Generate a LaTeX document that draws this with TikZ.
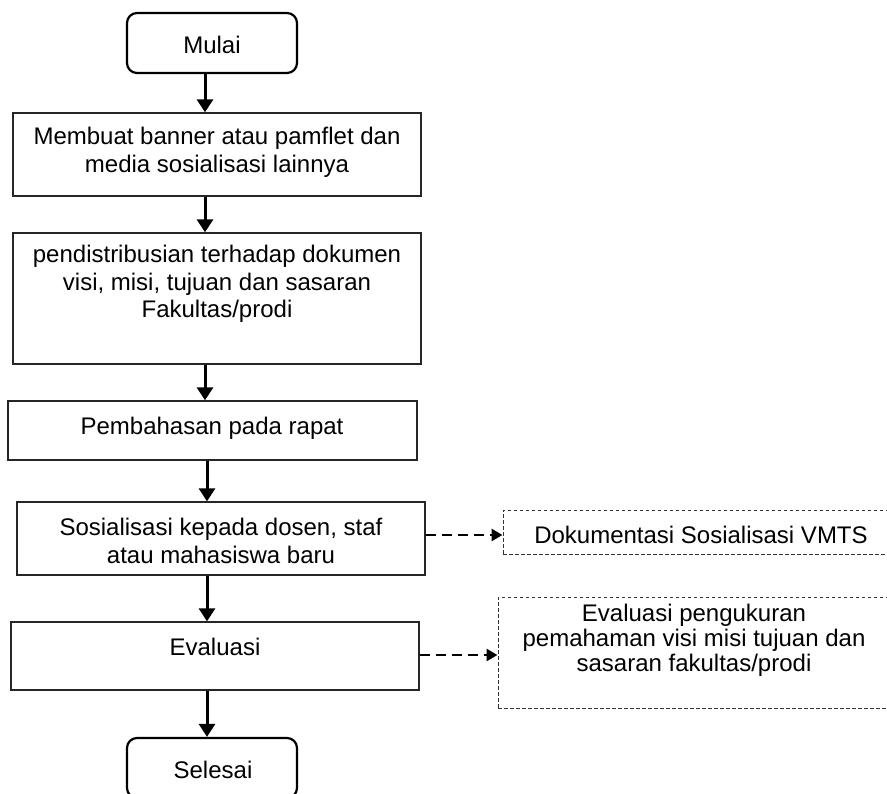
\documentclass[tikz,border=0pt]{standalone}
\usepackage{fontspec}
\setmainfont{Liberation Sans}
\usetikzlibrary{arrows.meta}
\begin{document}
\begin{tikzpicture}[x=1pt,y=-1pt,
  proc/.style={draw=black!85, line width=1.3pt, inner sep=0pt},
  term/.style={draw=black, line width=2.2pt, rounded corners=10pt, inner sep=0pt,
    minimum width=170pt, minimum height=60pt},
  txt/.style={font=\fontsize{24}{27.6}\selectfont, align=center, inner sep=0pt},
  flow/.style={line width=3pt, -{Triangle[length=13pt,width=16pt]}},
  dflow/.style={line width=2.8pt, dash pattern=on 10pt off 6pt, -{Triangle[length=11pt,width=12pt]}},
  note/.style={draw=black!80, line width=1pt, dash pattern=on 3.5pt off 2.5pt, inner sep=0pt}]
\clip (0,0) rectangle (887,794);
\fill[white] (0,0) rectangle (887,794);

% boxes
\node[term] (m) at (212,43) {};
\node[proc, minimum width=408pt, minimum height=83pt] (b1) at (217,154.5) {};
\node[proc, minimum width=408pt, minimum height=131pt] (b2) at (217,298.5) {};
\node[proc, minimum width=409pt, minimum height=59pt] (b3) at (212.5,430.5) {};
\node[proc, minimum width=408pt, minimum height=73pt] (b4) at (221,538.5) {};
\node[proc, minimum width=408pt, minimum height=68pt] (b5) at (215,656) {};
\node[term] (s) at (212,768) {};
\node[note, minimum width=396pt, minimum height=44pt] (d1) at (701,532) {};
\node[note, minimum width=392pt, minimum height=111pt] (d2) at (694,652.5) {};

% texts
\node[txt] (tm) at (212,45) {Mulai};
\node[txt] (t1) at (217,152) {Membuat banner atau pamflet dan\\media sosialisasi lainnya};
\node[txt] (t2) at (217,284) {pendistribusian terhadap dokumen\\visi, misi, tujuan dan sasaran\\Fakultas/prodi};
\node[txt] (t3) at (212,428) {Pembahasan pada rapat};
\node[txt] (t4) at (221,541) {Sosialisasi kepada dosen, staf\\atau mahasiswa baru};
\node[txt] (t5) at (215,647) {Evaluasi};
\node[txt] (ts) at (213,770) {Selesai};
\node[txt] (td1) at (701,535) {Dokumentasi Sosialisasi VMTS};
\node[txt, font=\fontsize{24}{25}\selectfont] (td2) at (694,640) {Evaluasi pengukuran\\pemahaman visi misi tujuan dan\\sasaran fakultas/prodi};

% connectors
\coordinate (ax1) at (205,0);
\coordinate (ax2) at (207,0);
\coordinate (ya) at (0,535);
\coordinate (yb) at (0,655);
\draw[flow] (m.south -| ax1) -- (b1.north -| ax1);
\draw[flow] (b1.south -| ax1) -- (b2.north -| ax1);
\draw[flow] (b2.south -| ax1) -- (b3.north -| ax1);
\draw[flow] (b3.south -| ax2) -- (b4.north -| ax2);
\draw[flow] (b4.south -| ax2) -- (b5.north -| ax2);
\draw[flow] (b5.south -| ax2) -- (s.north -| ax2);
\draw[dflow] (b4.east |- ya) -- (d1.west |- ya);
\draw[dflow] (b5.east |- yb) -- (d2.west |- yb);
\end{tikzpicture}
\end{document}
